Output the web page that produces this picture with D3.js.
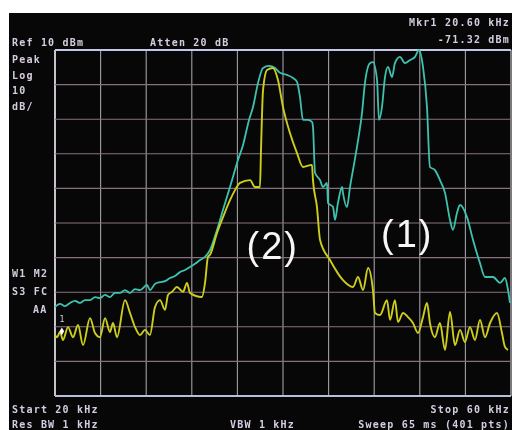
<!DOCTYPE html>
<html>
<head>
<meta charset="utf-8">
<script src="https://cdn.jsdelivr.net/npm/d3@7"></script>
<style>
	html, body { margin: 0; padding: 0; background: #ffffff; }
	svg { display: block; }
</style>
</head>
<body>
<script>
// trace (1)+(2) cyan, frequency in kHz and level in dBm
const cyanKHz = [20.0, 20.44, 20.88, 21.32, 21.75, 22.19, 22.63, 23.07, 23.51, 23.95, 24.39, 24.82, 25.26, 25.7, 26.14, 26.58, 27.02, 27.46, 28.07, 28.33, 28.77, 29.21, 29.65, 30.09, 30.53, 30.96, 31.4, 31.84, 32.28, 32.72, 33.16, 33.6, 34.21, 34.74, 35.35, 35.61, 36.05, 36.49, 37.02, 37.37, 37.81, 38.25, 38.77, 39.3, 39.74, 40.35, 40.88, 41.23, 41.49, 41.75, 42.19, 42.54, 42.63, 42.81, 43.25, 43.51, 43.86, 43.95, 44.39, 44.56, 44.82, 45.18, 45.26, 45.61, 45.88, 46.49, 46.93, 47.19, 47.63, 47.89, 48.25, 48.42, 48.68, 48.95, 49.21, 49.56, 49.82, 50.26, 50.7, 51.14, 51.58, 51.93, 52.28, 52.63, 52.89, 53.33, 53.77, 54.21, 54.65, 54.91, 55.26, 55.53, 56.14, 56.67, 57.28, 57.72, 58.42, 59.04, 59.47, 59.74, 59.91];
const cyanDbm = [-64.3, -63.4, -64.0, -63.1, -62.5, -63.1, -62.3, -62.3, -61.4, -61.7, -60.8, -61.4, -60.2, -60.2, -59.4, -60.2, -59.1, -59.4, -57.9, -59.4, -57.6, -57.1, -56.8, -55.9, -55.3, -54.2, -53.6, -52.7, -51.8, -50.7, -49.8, -47.8, -42.0, -36.2, -29.6, -26.7, -21.8, -17.5, -10.2, -6.5, 0.5, 4.8, 5.4, 4.8, 3.4, 2.8, 1.9, 0.8, -3.6, -10.2, -10.2, -10.8, -12.3, -25.5, -27.6, -29.6, -28.4, -34.2, -35.4, -39.1, -34.2, -29.6, -31.3, -35.4, -29.6, -18.0, -8.2, 0.5, 6.2, 6.5, 1.3, -10.2, -6.5, 2.2, 5.1, 2.2, 6.2, 8.0, 6.2, 7.1, 8.0, 10.0, 5.1, -6.5, -23.8, -24.7, -27.6, -31.3, -39.1, -42.0, -37.1, -34.8, -38.3, -44.9, -51.6, -55.6, -55.6, -57.3, -55.9, -59.4, -63.1];

// trace (2) yellow
const yellowKHz = [20.0, 20.18, 20.44, 20.7, 21.14, 21.58, 22.02, 22.46, 23.07, 23.51, 23.95, 24.39, 24.82, 25.09, 25.44, 26.14, 26.58, 27.02, 27.46, 27.89, 28.33, 28.77, 29.21, 29.65, 29.91, 30.26, 30.7, 31.23, 31.58, 31.84, 32.89, 33.16, 33.42, 33.6, 34.21, 34.74, 35.35, 35.79, 36.23, 37.11, 37.54, 37.98, 38.07, 38.25, 38.6, 39.12, 39.56, 40.0, 40.61, 41.23, 41.75, 42.54, 42.63, 42.98, 43.25, 44.12, 45.26, 46.14, 46.58, 47.02, 47.46, 47.89, 48.07, 48.51, 49.12, 49.39, 49.82, 50.09, 50.53, 50.96, 51.4, 51.84, 52.28, 52.63, 52.89, 53.33, 53.77, 54.21, 54.65, 55.09, 55.53, 55.96, 56.4, 56.84, 57.28, 57.72, 58.16, 58.77, 59.21, 59.47, 59.74];
const yellowDbm = [-72.4, -73.0, -71.5, -73.8, -70.1, -73.0, -69.5, -75.3, -67.5, -71.8, -73.0, -67.5, -71.5, -68.9, -73.0, -62.3, -66.0, -70.1, -72.4, -70.9, -72.4, -64.3, -62.3, -65.1, -60.8, -59.9, -58.5, -59.9, -57.3, -60.2, -61.4, -57.3, -49.8, -49.2, -42.9, -38.3, -33.4, -30.5, -28.4, -27.6, -29.6, -29.6, -18.9, -1.6, 4.2, 4.8, 1.3, -6.5, -14.0, -19.8, -23.8, -23.2, -27.6, -35.4, -44.9, -50.7, -56.5, -58.5, -55.6, -59.4, -53.0, -59.4, -66.0, -66.6, -62.3, -68.0, -62.3, -68.6, -66.0, -67.2, -68.9, -71.8, -67.2, -63.1, -68.9, -73.0, -68.9, -76.7, -65.7, -75.3, -70.9, -74.4, -70.1, -73.8, -68.0, -73.0, -68.9, -66.0, -71.8, -75.8, -76.7];

// screen annotations
const xTicks = [20, 24, 28, 32, 36, 40, 44, 48, 52, 56, 60];
const yTicks = [10, 0, -10, -20, -30, -40, -50, -60, -70, -80, -90];
const marker = { kHz: 20.6, dbm: -71.32 };
const leftLabels = ["Peak", "Log", "10", "dB/"];
const statusLabels = ["W1 M2", "S3 FC", "AA"];
const traceLabels = [{ text: "(2)", kHz: 39.1, dbm: -50.4 }, { text: "(1)", kHz: 50.9, dbm: -46.9 }];

var width = 512,
	height = 430;

var svg = d3.select("body").append("svg").attr("width", width).attr("height", height);

// soft glow like the photographed screen
var defs = svg.append("defs");
defs.append("filter").attr("id", "soft").append("feGaussianBlur").attr("stdDeviation", 0.45);

// screen of the analyzer (white photo border left / top)
svg.append("rect").attr("x", 9).attr("y", 13).attr("width", width - 9).attr("height", height - 13).style("fill", "#070707");

var x = d3.scaleLinear().domain([20, 60]).range([55, 511]);
var y = d3.scaleLinear().domain([-90, 10]).range([396, 50]);

// grid
var grid = svg.append("g").attr("class", "grid").attr("filter", "url(#soft)");
grid.selectAll("line.v")
	.data(xTicks)
	.enter()
	.append("line")
	.attr("class", "v")
	.attr("x1", (d) => x(d))
	.attr("x2", (d) => x(d))
	.attr("y1", y(10))
	.attr("y2", y(-90))
	.style("stroke", (d, i) => (i == 0 || i == xTicks.length - 1 ? "#dcd8e0" : "#a29ea6"))
	.style("stroke-width", (d, i) => (i == 0 ? 1.8 : 1.1));
grid.selectAll("line.h")
	.data(yTicks)
	.enter()
	.append("line")
	.attr("class", "h")
	.attr("x1", x(20))
	.attr("x2", x(60))
	.attr("y1", (d) => y(d))
	.attr("y2", (d) => y(d))
	.style("stroke", (d, i) => (i == 0 ? "#c4c8e8" : i == yTicks.length - 1 ? "#b8c0d8" : "#86727e"))
	.style("stroke-width", (d, i) => (i == 0 || i == yTicks.length - 1 ? 2 : 1.1));

var line = d3
	.line()
	.x((d) => x(d[0]))
	.y((d) => y(d[1]))
	.curve(d3.curveMonotoneX);

var cyan = cyanKHz.map((f, i) => [f, cyanDbm[i]]);
var yellow = yellowKHz.map((f, i) => [f, yellowDbm[i]]);

var traces = svg.append("g").attr("filter", "url(#soft)");
traces.append("path")
	.datum(cyan)
	.attr("d", line)
	.style("fill", "none")
	.style("stroke", "#3ec2ae")
	.style("stroke-width", 1.8);

traces.append("path")
	.datum(yellow)
	.attr("d", line)
	.style("fill", "none")
	.style("stroke", "#cdcd1c")
	.style("stroke-width", 1.9);

// marker 1
svg.append("path")
	.attr("d", d3.symbol().type(d3.symbolDiamond).size(18))
	.attr("transform", "translate(" + x(marker.kHz) + "," + y(marker.dbm) + ")")
	.style("fill", "#ffffff");
svg.append("text")
	.attr("x", x(marker.kHz))
	.attr("y", y(marker.dbm) - 9)
	.attr("text-anchor", "middle")
	.style("font", "8px 'DejaVu Sans Mono'")
	.style("fill", "#d8d0e0")
	.text("1");

// trace numbers
svg.selectAll("text.trace")
	.data(traceLabels)
	.enter()
	.append("text")
	.attr("class", "trace")
	.attr("x", (d) => x(d.kHz))
	.attr("y", (d) => y(d.dbm))
	.attr("text-anchor", "middle")
	.attr("filter", "url(#soft)")
	.style("font", "38px 'Liberation Sans', Arial, sans-serif")
	.style("letter-spacing", "2px")
	.style("fill", "#f6f6f6")
	.text((d) => d.text);

// analyzer text
function label(txt, px, py, anchor) {
	svg.append("text")
		.attr("x", px)
		.attr("y", py)
		.attr("text-anchor", anchor || "start")
		.attr("filter", "url(#soft)")
		.style("font", "bold 10px 'DejaVu Sans Mono', monospace")
		.style("letter-spacing", "1.2px")
		.style("fill", "#d6cce0")
		.text(txt);
}

label("Ref 10 dBm", 12, 46);
label("Atten 20 dB", 150, 46);
label("Mkr1  20.60 kHz", 510, 26, "end");
label("-71.32 dBm", 510, 43, "end");
leftLabels.forEach((t, i) => label(t, 12, 63 + i * 15.5));
statusLabels.forEach((t, i) => label(t, i == 2 ? 33 : 12, 277 + i * 18));
label("Start 20 kHz", 12, 413);
label("Res BW 1 kHz", 12, 428);
label("VBW 1 kHz", 230, 428);
label("Stop 60 kHz", 510, 413, "end");
label("Sweep 65 ms (401 pts)", 510, 428, "end");
</script>
</body>
</html>
